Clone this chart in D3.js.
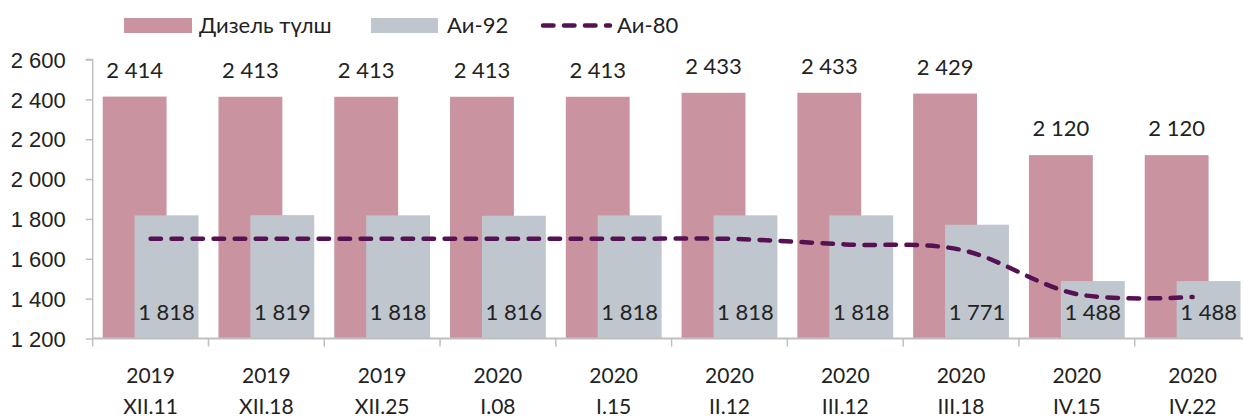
<!DOCTYPE html>
<html><head><meta charset="utf-8">
<script src="https://cdn.jsdelivr.net/npm/d3@7"></script>
<style>
html,body{margin:0;padding:0;background:#fff;}
svg{display:block;font-family:Lato, "Open Sans", sans-serif;font-weight:400;}
</style></head>
<body>
<svg id="chart" width="1243" height="417"></svg>
<script>
const years = ["2019","2019","2019","2020","2020","2020","2020","2020","2020","2020"];
const dates = ["XII.11","XII.18","XII.25","I.08","I.15","II.12","III.12","III.18","IV.15","IV.22"];
const categories = dates.map((d,i)=>years[i]+" "+d);
const diesel = [2414,2413,2413,2413,2413,2433,2433,2429,2120,2120];
const ai92 = [1818,1819,1818,1816,1818,1818,1818,1771,1488,1488];
const ai80 = [1700,1700,1700,1700,1700,1700,1672,1645,1423,1408];
const yTicks = [1200,1400,1600,1800,2000,2200,2400,2600];
const seriesNames = ["Дизель түлш","Аи-92","Аи-80"];

(function(){
const colPink = "#C9939F", colGrey = "#BFC6CE", colLine = "#561152", axisCol = "#BFBFBF", txt = "#222222";
const fmt = d3.formatLocale({decimal:".", thousands:" ", grouping:[3], currency:["",""]}).format(",");

const svg = d3.select("#chart");
const mLeft = 92.7, mRight = 1250.5, mTop = 59.5, mBottom = 338.5;
const pad = 0.1727;
const x = d3.scaleBand().domain(categories).range([mLeft,mRight]).paddingInner(pad).paddingOuter(pad/2);
const y = d3.scaleLinear().domain([1200,2600]).range([mBottom,mTop]);
const bw = x.bandwidth(), barW = bw*2/3;

// bars
svg.append("g").selectAll("rect").data(categories).join("rect")
  .attr("x", c=>x(c)).attr("width", barW)
  .attr("y", (c,i)=>y(diesel[i])).attr("height",(c,i)=>y(1200)-y(diesel[i]))
  .attr("fill", colPink);
svg.append("g").selectAll("rect").data(categories).join("rect")
  .attr("x", c=>x(c)+bw/3).attr("width", barW)
  .attr("y", (c,i)=>y(ai92[i])).attr("height",(c,i)=>y(1200)-y(ai92[i]))
  .attr("fill", colGrey);

// y axis
const yAxis = d3.axisLeft(y).tickValues(yTicks).tickSize(7).tickPadding(20).tickFormat(d=>fmt(d));
const gy = svg.append("g").attr("transform",`translate(${mLeft},0)`).call(yAxis);
gy.select(".domain").attr("stroke",axisCol).attr("stroke-width",1.5).attr("d",`M-7,${mTop}H0V${mBottom}`);
gy.selectAll(".tick line").attr("stroke",axisCol).attr("stroke-width",1.5);
gy.selectAll(".tick text").attr("fill",txt).style("font-size","22px").attr("dy","0.35em").attr("x",-27);

// x axis
const gx = svg.append("g").attr("transform",`translate(0,${mBottom})`);
gx.append("line").attr("x1",mLeft).attr("x2",mRight).attr("stroke",axisCol).attr("stroke-width",2);
const step = x.step();
gx.selectAll("line.tk").data(d3.range(categories.length+1)).join("line").attr("class","tk")
  .attr("x1",i=>mLeft+i*step).attr("x2",i=>mLeft+i*step).attr("y1",0).attr("y2",8)
  .attr("stroke",axisCol).attr("stroke-width",1.5);
const xl = gx.selectAll("text").data(categories).join("text")
  .attr("text-anchor","middle").attr("fill",txt).style("font-size","21px");
xl.append("tspan").attr("x",c=>x(c)+bw/2).attr("y",44).text((c,i)=>years[i]);
xl.append("tspan").attr("x",c=>x(c)+bw/2).attr("y",75).text((c,i)=>dates[i]);

// line
const line = d3.line().x((d,i)=>x(categories[i])+bw/2).y(d=>y(d)).curve(d3.curveCatmullRom.alpha(0.5));
svg.append("path").datum(ai80).attr("d",line).attr("fill","none")
  .attr("stroke",colLine).attr("stroke-width",4.5).attr("stroke-linecap","round")
  .attr("stroke-dasharray","10.5,10.5");

// labels
svg.append("g").selectAll("text").data(categories).join("text")
  .attr("x",c=>x(c)+barW/2).attr("y",(c,i)=>y(diesel[i])-19)
  .attr("text-anchor","middle").attr("fill",txt).style("font-size","22px")
  .text((c,i)=>fmt(diesel[i]));
svg.append("g").selectAll("text").data(categories).join("text")
  .attr("x",c=>x(c)+bw/3+barW/2).attr("y",y(1200)-19)
  .attr("text-anchor","middle").attr("fill",txt).style("font-size","22px")
  .text((c,i)=>fmt(ai92[i]));

// legend
const lg = svg.append("g").style("font-size","22px").attr("fill",txt);
lg.append("rect").attr("x",124).attr("y",18).attr("width",68).attr("height",15).attr("fill",colPink);
lg.append("text").attr("x",199).attr("y",33).text(seriesNames[0]);
lg.append("rect").attr("x",371).attr("y",18).attr("width",67).attr("height",15).attr("fill",colGrey);
lg.append("text").attr("x",447).attr("y",33).text(seriesNames[1]);
lg.append("line").attr("x1",543).attr("x2",610).attr("y1",25.5).attr("y2",25.5)
  .attr("stroke",colLine).attr("stroke-width",4.5).attr("stroke-linecap","round").attr("stroke-dasharray","10.5,10.5");
lg.append("text").attr("x",617).attr("y",33).text(seriesNames[2]);
})();
</script>
</body></html>
